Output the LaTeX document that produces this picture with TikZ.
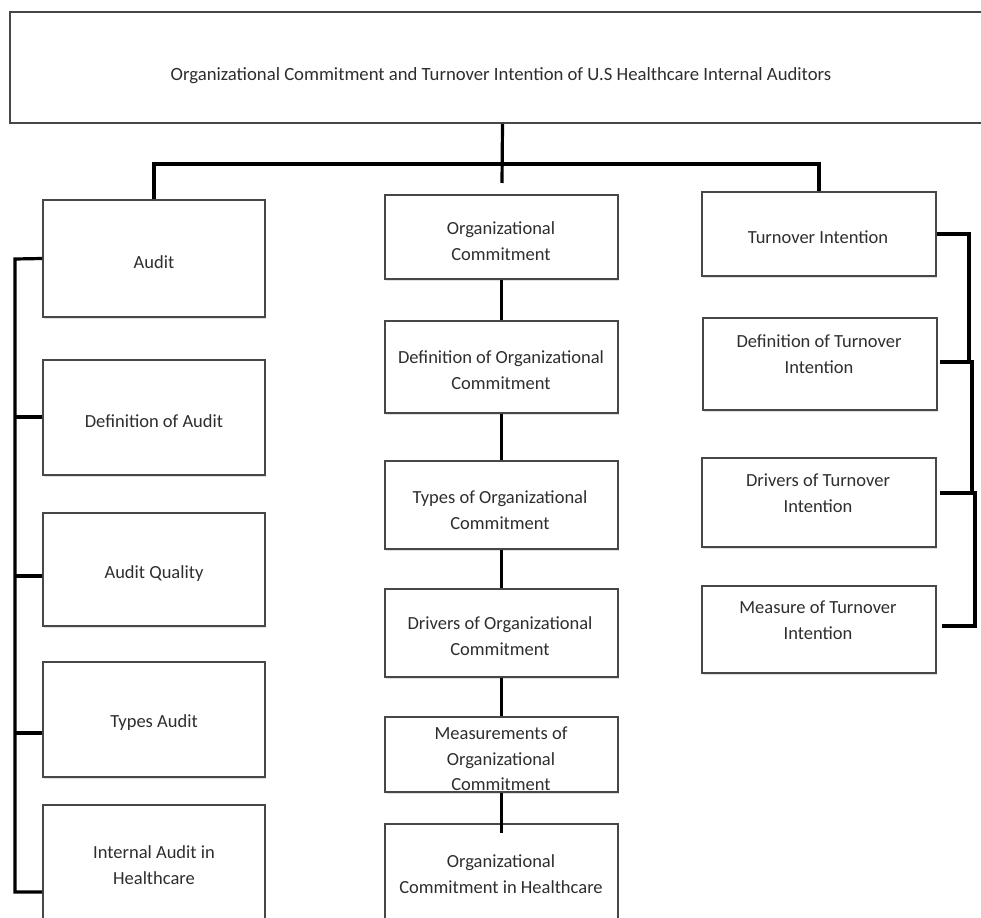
\documentclass[tikz,border=0pt]{standalone}
\usepackage{fontspec}
\setmainfont{Carlito}
\usetikzlibrary{shadows}
\begin{document}
\begin{tikzpicture}[x=1pt,y=-1pt,
  box/.style={draw=black!72, line width=1.6pt, fill=white, inner sep=0pt,
    drop shadow={shadow xshift=1pt, shadow yshift=-1.5pt, opacity=0.25}},
  lbox/.style={box, minimum width=222pt},
  mbox/.style={box, minimum width=233pt},
  rbox/.style={box, minimum width=234pt},
  txt/.style={align=center, inner sep=0pt, text=black!82,
    font=\fontsize{18.5}{25.5}\selectfont},
  ttl/.style={inner sep=0pt, text=black!82, font=\fontsize{18.7}{22}\selectfont},
  conn/.style={draw=black, line width=3.2pt}]
\useasboundingbox (0,0) rectangle (981,917);
\fill[white] (0,0) rectangle (981,917);

% boxes
\node[box, minimum width=985pt, minimum height=111pt] (top) at (502.5,67.5) {};

\node[lbox, minimum height=117pt] (audit) at (154,258.5) {};
\node[lbox, minimum height=115pt] (defa) at (154,417.5) {};
\node[lbox, minimum height=113pt] (aq) at (154,569.5) {};
\node[lbox, minimum height=115pt] (ta) at (154,719.5) {};
\node[lbox, minimum height=115pt] (iah) at (154,862.5) {};

\node[mbox, minimum height=84pt] (oc) at (501.5,237) {};
\node[mbox, minimum height=92pt] (doc) at (501.5,367) {};
\node[mbox, minimum height=88pt] (toc) at (501.5,505) {};
\node[mbox, minimum height=88pt] (droc) at (501.5,633) {};
\node[mbox, minimum height=75pt] (moc) at (501.5,754.5) {};
\node[mbox, minimum height=96pt] (och) at (501.5,872) {};

\node[rbox, minimum height=84pt] (ti) at (819,234) {};
\node[rbox, minimum height=92pt] (dti) at (820,364) {};
\node[rbox, minimum height=89pt] (drti) at (819,502.5) {};
\node[rbox, minimum height=87pt] (mti) at (819,629.5) {};

% connectors: top
\coordinate (hub) at (502,164);
\coordinate (stemend) at (502,183);
\draw[conn] (top.south) -- (stemend);
\draw[conn] (audit.north) |- (hub) -| (ti.north);

% middle chain
\draw[conn] (oc.south) -- (doc.north);
\draw[conn] (doc.south) -- (toc.north);
\draw[conn] (toc.south) -- (droc.north);
\draw[conn] (droc.south) -- (moc.north);
\coordinate (ochin) at (501.5,833);
\draw[conn] (moc.south) -- (ochin);

% left trunk
\coordinate (l1) at (15,259);
\coordinate (l2) at (15,417);
\coordinate (l3) at (15,576);
\coordinate (l4) at (15,733);
\coordinate (l5) at (15,892);
\draw[conn] (audit.west) -- (l1) -- (l5) -- (iah.west |- l5);
\draw[conn] (l2) -- (defa.west |- l2);
\draw[conn] (l3) -- (aq.west |- l3);
\draw[conn] (l4) -- (ta.west |- l4);

% right chain
\coordinate (r1) at (969,234);
\coordinate (r2) at (969,362);
\draw[conn] (ti.east) -- (r1) -- (r2) -- ([xshift=2pt]dti.east |- r2);
\coordinate (r3) at (972,362);
\coordinate (r4) at (972,493);
\draw[conn] ([xshift=2pt]dti.east |- r3) -- (r3) -- (r4) -- ([xshift=3pt]drti.east |- r4);
\coordinate (r5) at (975,493);
\coordinate (r6) at (975,626);
\draw[conn] ([xshift=3pt]drti.east |- r5) -- (r5) -- (r6) -- ([xshift=5pt]mti.east |- r6);

% texts
\node[ttl] (toptxt) at (501,76) {Organizational Commitment and Turnover Intention of U.S Healthcare Internal Auditors};

\node[txt] (auditt) at (154,262) {Audit};
\node[txt] (defat) at (154,421) {Definition of Audit};
\node[txt] (aqt) at (154,574) {Audit Quality};
\node[txt] (tat) at (154,723) {Types Audit};
\node[txt] (iaht) at (154,865) {Internal Audit in\\Healthcare};

\node[txt] (oct) at (501,241) {Organizational\\Commitment};
\node[txt] (doct) at (501,370) {Definition of Organizational\\Commitment};
\node[txt] (toct) at (500,510) {Types of Organizational\\Commitment};
\node[txt] (droct) at (500,636) {Drivers of Organizational\\Commitment};
\node[txt] (moct) at (501,759) {Measurements of\\Organizational\\Commitment};
\node[txt] (ocht) at (501,874) {Organizational\\Commitment in Healthcare};

\node[txt] (tit) at (818,237) {Turnover Intention};
\node[txt] (dtit) at (819,354) {Definition of Turnover\\Intention};
\node[txt] (drtit) at (818,493) {Drivers of Turnover\\Intention};
\node[txt] (mtit) at (818,620) {Measure of Turnover\\Intention};
\end{tikzpicture}
\end{document}
